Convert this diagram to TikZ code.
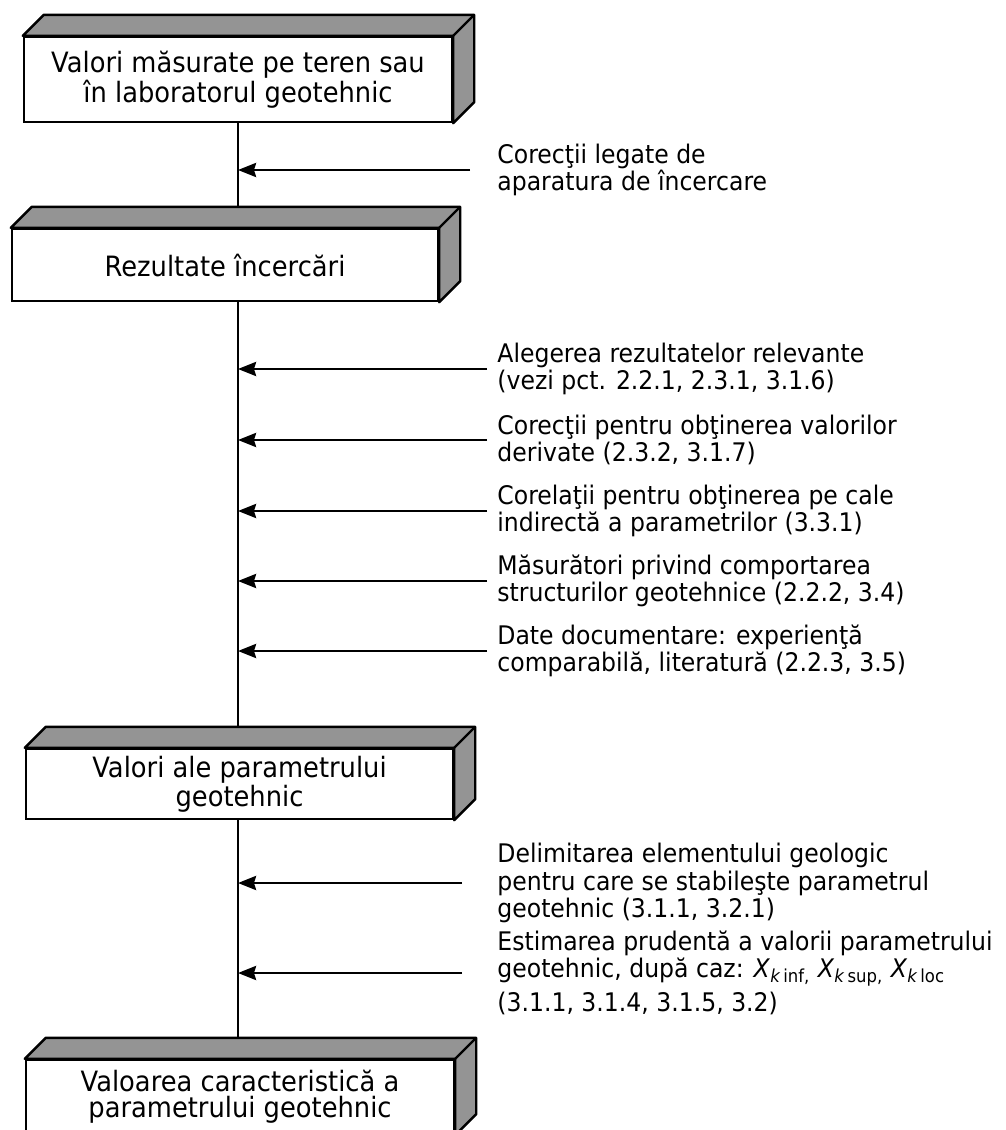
\documentclass[tikz,border=0pt]{standalone}
\usepackage{fontspec}
\setmainfont{DejaVu Sans}[FakeStretch=0.92]
\usetikzlibrary{arrows.meta}
\colorlet{facegray}{black!42}
% grey top and side faces of a box node
\newcommand\solidfaces[1]{%
\filldraw[fill=facegray,line width=1.2pt,line join=round](#1.north west)--++(21,-21)
 --([shift={(21,-21)}]#1.north east)--([shift={(21,-21)}]#1.south east)
 --(#1.south east)--(#1.north east)--cycle;
\draw[line width=1.2pt](#1.north east)--++(21,-21);}
\begin{document}
\begin{tikzpicture}[x=0.5pt,y=-0.5pt,>={Stealth[length=9pt,width=7pt,inset=1pt]},
box/.style={draw,line width=1.2pt,fill=white,align=center,inner sep=0pt,
 font=\fontsize{14}{13}\selectfont},
note/.style={anchor=west,align=left,inner sep=0pt,font=\fontsize{12.8}{13.6}\selectfont},
link/.style={line width=1.4pt}]
\useasboundingbox(0,0)rectangle(1006,1130);
\clip(0,0)rectangle(1006,1130);
% boxes
\node[box,minimum width=214pt,minimum height=42.5pt](b1)at(238,79.5)
 {Valori măsurate pe teren sau\\în laboratorul geotehnic};
\node[box,minimum width=213pt,minimum height=36pt](b2)at(225,265){Rezultate încercări};
\node[box,minimum width=213.5pt,minimum height=35pt](b3)at(239.5,784)
 {Valori ale parametrului\\geotehnic};
\node[box,minimum width=214pt,minimum height=37pt](b4)at(240,1097)
 {Valoarea caracteristică a\\parametrului geotehnic};
% main line
\draw[link](b1.south)--(b1.south|-b2.north);
\draw[link](b1.south|-b2.south)--(b1.south|-b3.north);
\draw[link](b1.south|-b3.south)--(b1.south|-b4.north);
\solidfaces{b1}
\solidfaces{b2}
\solidfaces{b3}
\solidfaces{b4}
% side notes
\node[note](t0)at(497,170){Corecţii legate de\\aparatura de încercare};
\node[note](t1)at(497,369){Alegerea rezultatelor relevante\\(vezi pct. 2.2.1, 2.3.1, 3.1.6)};
\node[note](t2)at(497,440){Corecţii pentru obţinerea valorilor\\derivate (2.3.2, 3.1.7)};
\node[note](t3)at(497,511){Corelaţii pentru obţinerea pe cale\\indirectă a parametrilor (3.3.1)};
\node[note](t4)at(497,581){Măsurători privind comportarea\\structurilor geotehnice (2.2.2, 3.4)};
\node[note](t5)at(497,651){Date documentare: experienţă\\comparabilă, literatură (2.2.3, 3.5)};
\node[note](t6)at(497,883){Delimitarea elementului geologic\\pentru care se stabileşte parametrul\\geotehnic (3.1.1, 3.2.1)};
\node[note](t7)at(497,973){Estimarea prudentă a valorii parametrului\\geotehnic, după caz:
 \textit{X}\textsubscript{\textit{k}\,inf,} \textit{X}\textsubscript{\textit{k}\,sup,}
 \textit{X}\textsubscript{\textit{k}\,loc}\\[2pt](3.1.1, 3.1.4, 3.1.5, 3.2)};
% arrows
\draw[link,->]([xshift=-13.5pt]t0.west)--(t0.west-|b1.south);
\foreach \t in {t1,t2,t3,t4,t5}
 \draw[link,->]([xshift=-5pt]\t.west)--(\t.west-|b1.south);
\draw[link,->]([xshift=-17.5pt]t6.west)--(t6.west-|b1.south);
\draw[link,->]([xshift=-17.5pt]t7.west)--(t7.west-|b1.south);
\end{tikzpicture}
\end{document}
